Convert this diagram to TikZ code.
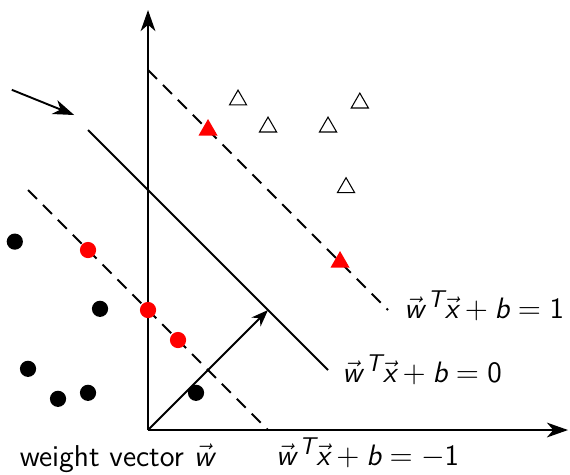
\documentclass[tikz,border=0pt]{standalone}
\usetikzlibrary{arrows.meta,shapes.geometric}
\DeclareMathAlphabet{\mathsfit}{TU}{lmss}{m}{sl}
\DeclareMathAlphabet{\mathsfup}{TU}{lmss}{m}{n}
\newcommand{\hochT}{\mbox{\fontsize{11.5}{13}\selectfont\itshape T}}
\newcommand{\ebenegl}[1]{$\vec{\mathsfit{w}}^{\,\hochT}\vec{\mathsfit{x}}+\mathsfit{b}=#1$}

\tikzset{
    punkt/.style={circle, fill, inner sep=0pt, minimum size=0.27cm},
    svpunkt/.style={punkt, red},
    dreieck/.style={regular polygon, regular polygon sides=3, draw, line width=0.5pt, inner sep=0pt, minimum size=0.33cm},
    svdreieck/.style={dreieck, fill=red, draw=red},
    achse/.style={line width=0.9pt, -{Stealth[length=10pt, width=7pt, inset=3pt]}},
    ebene/.style={line width=0.9pt},
    randebene/.style={ebene, dash pattern=on 6pt off 4pt}
}

\begin{document}
\begin{tikzpicture}[font=\sffamily\fontsize{14}{17}\selectfont]
    \useasboundingbox (-2.467,-0.733) rectangle (7.033,7.167);
    \path coordinate (O) at (0,0)
        coordinate (X) at (7,0)
        coordinate (Y) at (0,7)
        coordinate (W) at (2,2)
        coordinate (H0a) at (-1,5) coordinate (H0b) at (3,1)
        coordinate (Hpa) at (0,6) coordinate (Hpb) at (4,2)
        coordinate (Hma) at (-2,4) coordinate (Hmb) at (2,0)
        coordinate (Za) at (-2.27,5.67) coordinate (Zb) at (-1.23,5.25);
    \draw[achse] (O) -- (X);
    \draw[achse] (O) -- (Y);
    % Hyperebenen
    \draw[ebene] (H0a) -- (H0b) node[right, xshift=3pt] (L0) {\ebenegl{\mathsfup{0}}};
    \draw[randebene] (Hpa) -- (Hpb) node[right, xshift=4pt, yshift=2pt] (Lp) {\ebenegl{\mathsfup{1}}};
    \draw[randebene] (Hma) -- (Hmb) node[below right] (Lm) {\ebenegl{-\mathsfup{1}}};
    \draw[achse, -{Stealth[length=8pt, width=6pt, inset=2.5pt]}] (O) -- (W);
    \draw[achse] (Za) -- (Zb);
    \node[font=\sffamily\fontsize{14.3}{17}\selectfont] (Lw) at (-0.52,-0.47) {weight vector $\vec{\mathsfit{w}}$};
    % Klasse -1
    \path node[punkt] (n1) at (-2.22,3.14) {}
        node[punkt] (n2) at (-0.8,2.02) {}
        node[punkt] (n3) at (-2,1.02) {}
        node[punkt] (n4) at (-1.5,0.52) {}
        node[punkt] (n5) at (-1,0.62) {}
        node[punkt] (n6) at (0.8,0.62) {}
        node[svpunkt] (s1) at (-1,3) {}
        node[svpunkt] (s2) at (0,2) {}
        node[svpunkt] (s3) at (0.5,1.5) {};
    % Klasse +1
    \path node[dreieck] (p1) at (1.5,5.5) {}
        node[dreieck] (p2) at (3.53,5.45) {}
        node[dreieck] (p3) at (2,5.05) {}
        node[dreieck] (p4) at (3,5.05) {}
        node[dreieck] (p5) at (3.3,4.04) {}
        node[svdreieck] (t1) at (1,5) {}
        node[svdreieck] (t2) at (3.2,2.8) {};
\end{tikzpicture}
\end{document}
